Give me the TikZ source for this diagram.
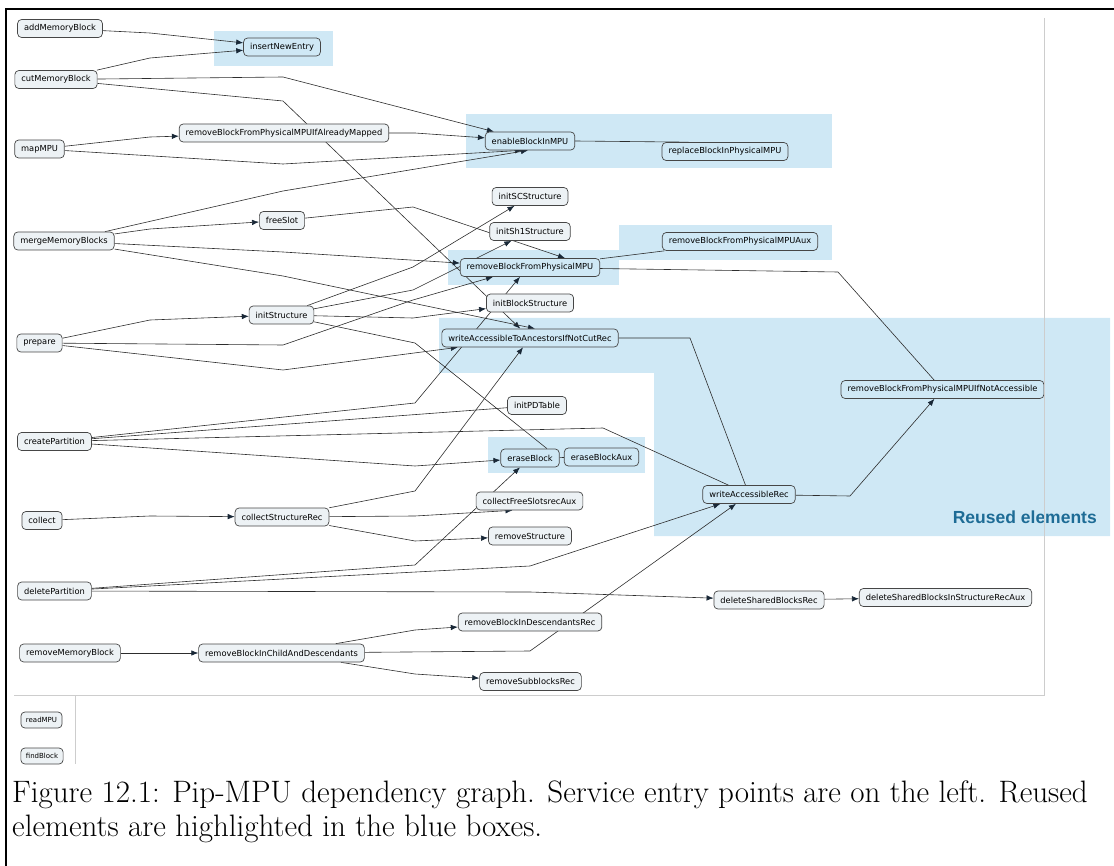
\documentclass[tikz,border=0pt]{standalone}
\usepackage{fontspec}
\newfontfamily\nodefont{DejaVu Sans}
\newfontfamily\hlfont{Liberation Sans}
\usetikzlibrary{arrows.meta}
\definecolor{hlblue}{RGB}{207,232,245}
\definecolor{nodefill}{RGB}{237,242,245}
\definecolor{nodeline}{RGB}{70,70,70}
\definecolor{edgecol}{RGB}{45,45,45}
\definecolor{tipcol}{RGB}{25,40,55}
\definecolor{labblue}{RGB}{30,108,150}
\definecolor{framegray}{RGB}{205,205,205}
\pgfdeclarelayer{bg}
\pgfdeclarelayer{edges}
\pgfsetlayers{bg,edges,main}

\begin{document}
\begin{tikzpicture}[x=1pt,y=-1pt,
    fn/.style={draw=nodeline, fill=nodefill, rounded corners=4pt, line width=0.7pt,
      font=\nodefont\fontsize{8.3}{9}\selectfont, inner xsep=6.5pt, inner ysep=0pt, minimum height=18pt},
    fnhl/.style={fn, fill=hlblue},
    fnsmall/.style={fn, font=\nodefont\fontsize{7}{8}\selectfont, minimum height=16pt, inner xsep=5pt},
    edge/.style={draw=edgecol, line width=0.6pt},
    >={Latex[length=7pt,width=5.5pt,color=tipcol]}]
  \useasboundingbox (0,0) rectangle (1114,866);

  \begin{pgfonlayer}{bg}
    \fill[hlblue] (214,31) rectangle (333,66);
    \fill[hlblue] (466,114) rectangle (832,168);
    \fill[hlblue] (619,225) rectangle (832,260);
    \fill[hlblue] (448,250) rectangle (619,285);
    \fill[hlblue] (439,318) -- (1110,318) -- (1110,536) -- (654,536) -- (654,373) -- (439,373) -- cycle;
    \fill[hlblue] (488,437) rectangle (645,473);
  \end{pgfonlayer}

  \node[fn] (addMB) at (60,28.5) {addMemoryBlock};
  \node[fnhl] (insert) at (282,47) {insertNewEntry};
  \node[fn] (cutMB) at (56,79.5) {cutMemoryBlock};
  \node[fn] (ifMapped) at (284,133) {removeBlockFromPhysicalMPUIfAlreadyMapped};
  \node[fn] (mapMPU) at (39.5,149) {mapMPU};
  \node[fnhl] (enable) at (530,141) {enableBlockInMPU};
  \node[fnhl] (replace) at (725,151.5) {replaceBlockInPhysicalMPU};
  \node[fn] (initSC) at (530,196.5) {initSCStructure};
  \node[fn] (freeSlot) at (282,220.5) {freeSlot};
  \node[fn] (initSh1) at (530,231.5) {initSh1Structure};
  \node[fn] (mergeMB) at (64,241) {mergeMemoryBlocks};
  \node[fnhl] (rbpmAux) at (740,241.5) {removeBlockFromPhysicalMPUAux};
  \node[fnhl] (rbpm) at (530,267.5) {removeBlockFromPhysicalMPU};
  \node[fn] (initBlock) at (530,303) {initBlockStructure};
  \node[fn] (initStruct) at (281.5,315) {initStructure};
  \node[fnhl] (writeAnc) at (530,338) {writeAccessibleToAncestorsIfNotCutRec};
  \node[fn] (prepare) at (39.5,343) {prepare};
  \node[fnhl] (ifNotAcc) at (942.5,389.5) {removeBlockFromPhysicalMPUIfNotAccessible};
  \node[fn] (initPD) at (537,405.5) {initPDTable};
  \node[fn] (createP) at (54.5,441.5) {createPartition};
  \node[fnhl] (erase) at (530,458) {eraseBlock};
  \node[fnhl] (eraseAux) at (601.5,457) {eraseBlockAux};
  \node[fnhl] (writeRec) at (749,494.5) {writeAccessibleRec};
  \node[fn] (collectFS) at (529.5,501) {collectFreeSlotsrecAux};
  \node[fn] (collectSR) at (282,517) {collectStructureRec};
  \node[fn] (collect) at (42,520.5) {collect};
  \node[fn] (removeSt) at (530,536) {removeStructure};
  \node[fn] (deleteP) at (54.5,591) {deletePartition};
  \node[fn] (delShared) at (769,600) {deleteSharedBlocksRec};
  \node[fn] (delSharedAux) at (945.5,597.5) {deleteSharedBlocksInStructureRecAux};
  \node[fn] (rmDesc) at (530,622) {removeBlockInDescendantsRec};
  \node[fn] (removeMB) at (70,653) {removeMemoryBlock};
  \node[fn] (rmChild) at (281.5,653) {removeBlockInChildAndDescendants};
  \node[fn] (rmSub) at (530.5,681.5) {removeSubblocksRec};
  \node[fnsmall] (readMPU) at (41.5,720) {readMPU};
  \node[fnsmall] (findBlock) at (42,756) {findBlock};

  \node[anchor=base east, font=\hlfont\bfseries\fontsize{17.5}{20}\selectfont, text=labblue, inner sep=0pt] (reused) at (1097,523) {Reused elements};

  \begin{pgfonlayer}{edges}
    \draw[edge,->] (addMB) -- (150,33) -- (insert);
    \draw[edge,->] (cutMB) -- (150,58) -- (insert);
    \draw[edge,->] (cutMB) -- (283,77) -- (enable);
    \draw[edge,->] (cutMB) -- (283,101) -- (writeAnc);
    \draw[edge,->] (mapMPU) -- (150,137) -- (ifMapped);
    \draw[edge,->] (mapMPU) -- (283,164) -- ([xshift=-8pt]enable.south);
    \draw[edge,->] (ifMapped) -- (415,133) -- (enable);
    \draw[edge] (enable.east) -- ([xshift=27pt]replace.north west);
    \draw[edge,->] (mergeMB) -- (283,191) -- ([xshift=-2pt]enable.south);
    \draw[edge,->] (mergeMB) -- (150,229) -- (freeSlot);
    \draw[edge,->] (freeSlot) -- (413,207) -- ([xshift=35pt]rbpm.north);
    \draw[edge,->] (mergeMB) -- (283,252) -- (rbpm);
    \draw[edge,->] (mergeMB) -- (283,276) -- ([xshift=5pt]writeAnc.north);
    \draw[edge] (rbpm) -- (rbpmAux);
    \draw[edge] (rbpm) -- (838,272) -- (ifNotAcc);
    \draw[edge,->] (prepare) -- (150,320) -- (initStruct);
    \draw[edge,->] (prepare) -- (283,345) -- (413,300) -- ([xshift=-37pt]rbpm.south);
    \draw[edge,->] (prepare) -- (283,370) -- (writeAnc);
    \draw[edge,->] (initStruct) -- (413,267) -- (initSC);
    \draw[edge,->] (initStruct) -- (413,290) -- (initSh1);
    \draw[edge,->] (initStruct) -- (413,318) -- (initBlock);
    \draw[edge] (initStruct) -- (415,343) -- ([xshift=17pt]erase.north);
    \draw[edge] (writeAnc) -- (690,338) -- (writeRec);
    \draw[edge,->] (writeRec) -- (850,496) -- (ifNotAcc);
    \draw[edge,->] (createP) -- (415,403) -- ([xshift=-10pt]rbpm.south);
    \draw[edge] (createP) -- (initPD);
    \draw[edge] (createP) -- (603,428) -- (writeRec);
    \draw[edge,->] (createP) -- (415,466) -- (erase);
    \draw[edge] (erase) -- (eraseAux);
    \draw[edge,->] (collect) -- (150,516) -- (collectSR);
    \draw[edge,->] (collectSR) -- (415,491) -- (writeAnc);
    \draw[edge,->] (collectSR) -- (415,516) -- ([xshift=-17pt]collectFS.south);
    \draw[edge,->] (collectSR) -- (415,541) -- (removeSt);
    \draw[edge,->] (deleteP) -- (415,565) -- (erase);
    \draw[edge,->] (deleteP) -- (530,566) -- (writeRec);
    \draw[edge,->] (deleteP) -- (530,592) -- (delShared);
    \draw[edge,->] (delShared) -- (delSharedAux);
    \draw[edge,->] (removeMB) -- (rmChild);
    \draw[edge,->] (rmChild) -- (415,630) -- (rmDesc);
    \draw[edge,->] (rmChild) -- (530,651) -- (writeRec);
    \draw[edge,->] (rmChild) -- (415,674) -- (rmSub);
  \end{pgfonlayer}

  \draw[framegray, line width=0.8pt] (1044,18) -- (1044,695) -- (14,695);
  \draw[framegray, line width=0.8pt] (75,695) -- (75,764);
  \draw[line width=1.2pt] (6,866) -- (6,9) -- (1114,9);

  \node[anchor=base west, font=\fontsize{31}{34}\selectfont, inner sep=0pt] (cap1) at (12,802)
    {Figure 12.1: Pip-MPU dependency graph. Service entry points are on the left. Reused};
  \node[anchor=base west, font=\fontsize{31}{34}\selectfont, inner sep=0pt] (cap2) at (12,836)
    {elements are highlighted in the blue boxes.};
\end{tikzpicture}
\end{document}
